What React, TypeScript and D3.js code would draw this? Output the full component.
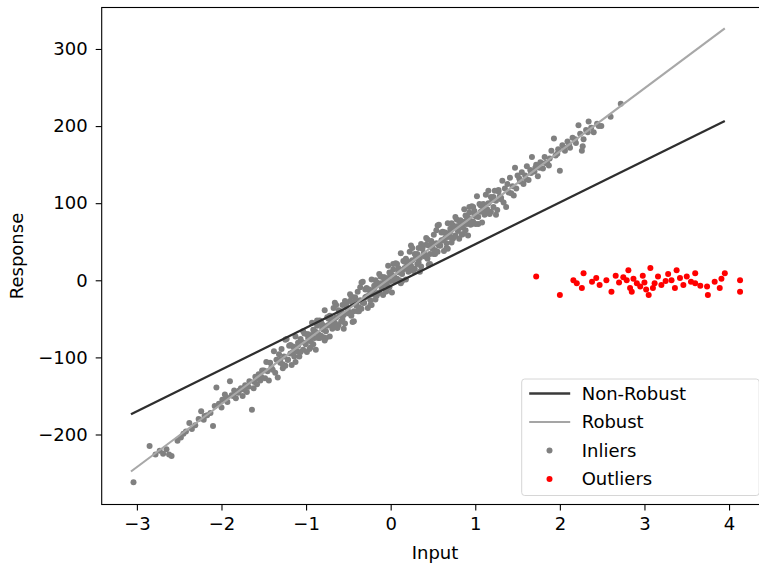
import * as d3 from "d3";
import { useRef, useEffect } from "react";

// values
const xTicks = [-3, -2, -1, 0, 1, 2, 3, 4];
const yTicks = [-200, -100, 0, 100, 200, 300];

const fitX = [-3.07, 3.95];
const nonRobustY = [-173.8, 206.6];
const robustY = [-248, 326.8];

const inliers: [number, number][] = [
  // lower tail
  [-3.04, -262], [-2.85, -215], [-2.78, -226], [-2.73, -221], [-2.69, -225], [-2.65, -219],
  [-2.62, -226], [-2.59, -228], [-2.52, -208], [-2.48, -204], [-2.45, -199], [-2.42, -196],
  [-2.38, -185], [-2.35, -193], [-2.31, -188], [-2.27, -180], [-2.24, -170], [-2.21, -181],
  [-2.2, -176], [-2.17, -175], [-2.13, -172], [-2.1, -189], [-2.08, -163], [-2.06, -139],
  [-2.03, -160], [-2.0, -165], [-1.99, -155], [-1.96, -148], [-1.94, -152], [-1.93, -158],
  [-1.9, -131], [-1.88, -149], [-1.86, -150], [-1.85, -143], [-1.83, -153], [-1.8, -146],
  [-1.79, -143], [-1.77, -140], [-1.75, -150], [-1.73, -142], [-1.72, -136], [-1.7, -145],
  [-1.68, -138], [-1.67, -131], [-1.64, -168], [-1.62, -140], [-1.61, -132], [-1.6, -125],
  [-1.58, -135], [-1.57, -127], [-1.56, -122], [-1.54, -130], [-1.53, -125], [-1.52, -117],
  // main band
  [-1.5, -117], [-1.485, -127], [-1.47, -106], [-1.455, -118], [-1.44, -130], [-1.425, -107],
  [-1.41, -113], [-1.395, -116], [-1.38, -92], [-1.365, -120], [-1.35, -103], [-1.335, -126],
  [-1.32, -96], [-1.305, -107], [-1.29, -89], [-1.275, -109], [-1.26, -99], [-1.245, -111],
  [-1.23, -76], [-1.215, -103], [-1.2, -85], [-1.185, -95], [-1.17, -110], [-1.155, -86],
  [-1.14, -99], [-1.125, -73], [-1.11, -92], [-1.095, -85], [-1.08, -99], [-1.065, -76],
  [-1.05, -80], [-1.035, -90], [-1.02, -69], [-1.005, -81], [-0.99, -93], [-0.975, -70],
  [-0.96, -76], [-0.945, -79], [-0.93, -55], [-0.915, -83], [-0.9, -66], [-0.885, -90],
  [-0.87, -59], [-0.855, -70], [-0.84, -52], [-0.825, -72], [-0.81, -62], [-0.795, -74],
  [-0.78, -39], [-0.765, -66], [-0.75, -48], [-0.735, -58], [-0.72, -73], [-0.705, -49],
  [-0.69, -63], [-0.675, -36], [-0.66, -55], [-0.645, -48], [-0.63, -62], [-0.615, -39],
  [-0.6, -43], [-0.585, -53], [-0.57, -32], [-0.555, -45], [-0.54, -56], [-0.525, -33],
  [-0.51, -39], [-0.495, -43], [-0.48, -18], [-0.465, -46], [-0.45, -29], [-0.435, -53],
  [-0.42, -22], [-0.405, -33], [-0.39, -15], [-0.375, -35], [-0.36, -26], [-0.345, -37],
  [-0.33, -2], [-0.315, -29], [-0.3, -12], [-0.285, -21], [-0.27, -36], [-0.255, -12],
  [-0.24, -26], [-0.225, 1], [-0.21, -18], [-0.195, -11], [-0.18, -25], [-0.165, -3],
  [-0.15, -6], [-0.135, -16], [-0.12, 5], [-0.105, -8], [-0.09, -19], [-0.075, 4],
  [-0.06, -2], [-0.045, -6], [-0.03, 19], [-0.015, -9], [0, 8], [0.015, -16],
  [0.03, 14], [0.045, 4], [0.06, 22], [0.075, 2], [0.09, 11], [0.105, 0],
  [0.12, 35], [0.135, 8], [0.15, 25], [0.165, 16], [0.18, 1], [0.195, 25],
  [0.21, 11], [0.225, 37], [0.24, 19], [0.255, 26], [0.27, 12], [0.285, 34],
  [0.3, 31], [0.315, 21], [0.33, 42], [0.345, 29], [0.36, 18], [0.375, 41],
  [0.39, 35], [0.405, 31], [0.42, 55], [0.435, 28], [0.45, 45], [0.465, 21],
  [0.48, 51], [0.495, 41], [0.51, 59], [0.525, 39], [0.54, 48], [0.555, 37],
  [0.57, 72], [0.585, 45], [0.6, 62], [0.615, 52], [0.63, 38], [0.645, 62],
  [0.66, 48], [0.675, 74], [0.69, 56], [0.705, 63], [0.72, 49], [0.735, 71],
  [0.75, 68], [0.765, 58], [0.78, 79], [0.795, 66], [0.81, 54], [0.825, 78],
  [0.84, 72], [0.855, 68], [0.87, 92], [0.885, 65], [0.9, 82], [0.915, 58],
  [0.93, 88], [0.945, 77], [0.96, 96], [0.975, 76], [0.99, 85], [1.005, 73],
  [1.02, 109], [1.035, 82], [1.05, 99], [1.065, 89], [1.08, 75], [1.095, 99],
  [1.11, 85], [1.125, 111], [1.14, 92], [1.155, 100], [1.17, 86], [1.185, 108],
  [1.2, 104], [1.215, 95], [1.23, 116], [1.245, 103], [1.26, 91], [1.275, 115],
  [1.29, 109], [1.305, 105], [1.32, 129], [1.335, 101], [1.35, 119], [1.365, 95],
  [1.38, 125], [1.395, 114], [1.41, 133], [1.425, 113], [1.44, 122], [1.455, 110],
  [1.47, 146], [1.485, 119], [1.5, 136],
  // core, second pass
  [-0.99, -70], [-0.96, -89], [-0.93, -71], [-0.9, -75], [-0.87, -52], [-0.84, -75],
  [-0.81, -57], [-0.78, -78], [-0.75, -59], [-0.72, -46], [-0.69, -60], [-0.66, -29],
  [-0.63, -61], [-0.6, -45], [-0.57, -51], [-0.54, -27], [-0.51, -42], [-0.48, -27],
  [-0.45, -54], [-0.42, -26], [-0.39, -40], [-0.36, -9], [-0.33, -29], [-0.3, -22],
  [-0.27, -12], [-0.24, -32], [-0.21, -16], [-0.18, 0], [-0.15, -17], [-0.12, -4],
  [-0.09, 4], [-0.06, -15], [-0.03, 3], [0, -1], [0.03, 21], [0.06, -1],
  [0.09, 16], [0.12, -4], [0.15, 14], [0.18, 28], [0.21, 14], [0.24, 45],
  [0.27, 13], [0.3, 29], [0.33, 23], [0.36, 47], [0.39, 32], [0.42, 46],
  [0.45, 20], [0.48, 47], [0.51, 34], [0.54, 65], [0.57, 45], [0.6, 52],
  [0.63, 62], [0.66, 42], [0.69, 58], [0.72, 74], [0.75, 56], [0.78, 70],
  [0.81, 77], [0.84, 59], [0.87, 76], [0.9, 73], [0.93, 95], [0.96, 73],
  [0.99, 90],
  // core, third pass
  [-1.305, -103], [-1.275, -114], [-1.245, -77], [-1.215, -103], [-1.185, -84], [-1.155, -93],
  [-1.125, -106], [-1.095, -81], [-1.065, -93], [-1.035, -66], [-1.005, -83], [-0.975, -75],
  [-0.945, -87], [-0.915, -64], [-0.885, -67], [-0.855, -75], [-0.825, -53], [-0.795, -64],
  [-0.765, -75], [-0.735, -50], [-0.705, -55], [-0.675, -57], [-0.645, -32], [-0.615, -58],
  [-0.585, -40], [-0.555, -63], [-0.525, -31], [-0.495, -41], [-0.465, -21], [-0.435, -40],
  [-0.405, -29], [-0.375, -40], [-0.345, -3], [-0.315, -29], [-0.285, -10], [-0.255, -19],
  [-0.225, -32], [-0.195, -7], [-0.165, -20], [-0.135, 8], [-0.105, -10], [-0.075, -1],
  [-0.045, -14], [-0.015, 10], [0.015, 7], [0.045, -1], [0.075, 21], [0.105, 10],
  [0.135, -1], [0.165, 24], [0.195, 19], [0.225, 16], [0.255, 42], [0.285, 15],
  [0.315, 34], [0.345, 11], [0.375, 43], [0.405, 33], [0.435, 53], [0.465, 34],
  [0.495, 45], [0.525, 34], [0.555, 71], [0.585, 45], [0.615, 63], [0.645, 55],
  [0.675, 41], [0.705, 67], [0.735, 54], [0.765, 82], [0.795, 64], [0.825, 73],
  [0.855, 60], [0.885, 84], [0.915, 81], [0.945, 72], [0.975, 95], [1.005, 83],
  [1.035, 73], [1.065, 97], [1.095, 93], [1.125, 90], [1.155, 116], [1.185, 89],
  [1.215, 108], [1.245, 85], [1.275, 117], [1.305, 107],
  // upper tail
  [1.52, 132], [1.53, 128], [1.55, 140], [1.57, 125], [1.59, 136], [1.6, 131],
  [1.61, 148], [1.63, 130], [1.65, 143], [1.66, 139], [1.67, 160], [1.7, 141],
  [1.71, 146], [1.72, 150], [1.74, 135], [1.76, 146], [1.77, 153], [1.8, 145],
  [1.82, 160], [1.83, 152], [1.85, 152], [1.87, 149], [1.88, 158], [1.9, 168],
  [1.93, 184], [1.95, 162], [1.97, 164], [1.98, 170], [2.0, 142], [2.03, 175],
  [2.05, 172], [2.06, 168], [2.09, 180], [2.11, 176], [2.12, 172], [2.15, 185],
  [2.18, 183], [2.19, 178], [2.22, 201], [2.24, 190], [2.26, 168], [2.27, 174],
  [2.28, 183], [2.31, 195], [2.33, 192], [2.34, 206], [2.37, 198], [2.4, 192],
  [2.44, 203], [2.46, 200], [2.49, 200], [2.6, 212], [2.72, 229],
];

const outliers: [number, number][] = [
  [1.72, 5], [2.0, -19], [2.16, 0], [2.2, -4], [2.26, -10], [2.28, 9], [2.38, -2],
  [2.43, 3], [2.47, -6], [2.55, 0], [2.61, -15], [2.66, 6], [2.7, -3], [2.75, 4],
  [2.79, 0], [2.81, 13], [2.83, -10], [2.85, -15], [2.87, 2], [2.91, -4], [2.95, -8],
  [2.98, 6], [3.0, -3], [3.02, -12], [3.05, -19], [3.07, 16], [3.1, -10], [3.12, -4],
  [3.16, 5], [3.2, -6], [3.25, -1], [3.28, 8], [3.32, 0], [3.36, -10], [3.38, 13],
  [3.42, 3], [3.46, -6], [3.5, 5], [3.55, -2], [3.6, -4], [3.6, 9], [3.66, -7],
  [3.74, -8], [3.75, -19], [3.83, -2], [3.89, -10], [3.91, 2], [3.95, 9], [4.13, 0],
  [4.13, -15],
];

const legendItems = [
  { label: "Non-Robust", kind: "line", color: "#3a3a3a", width: 2.6 },
  { label: "Robust", kind: "line", color: "#a5a5a5", width: 2.2 },
  { label: "Inliers", kind: "dot", color: "#808080", width: 0 },
  { label: "Outliers", kind: "dot", color: "#ff0000", width: 0 },
];

const App = () => {
  const container = useRef(null);

  useEffect(() => {
    document.body.style.margin = "0";
    createChart();
  });

  const createChart = () => {
    const node = container.current;
    const font = "DejaVu Sans, sans-serif";

    const dims = { width: 759, height: 566 };
    const plot = { l: 101.7, r: 768.3, t: 7.5, b: 504.5 };
    const dotR = 3;

    const svg = d3
      .select(node)
      .selectAll("svg")
      .data([0])
      .join("svg")
      .attr("width", dims.width)
      .attr("height", dims.height)
      .style("display", "block")
      .style("background", "#fff");

    const xScale = d3.scaleLinear().domain([-3.416, 4.464]).range([plot.l, plot.r]);
    const yScale = d3.scaleLinear().domain([-290.8, 353.8]).range([plot.b, plot.t]);

    // --- AXES
    const xaxisg = svg
      .selectAll(".x-axis-g")
      .data([0])
      .join("g")
      .attr("class", "x-axis-g")
      .attr("transform", `translate(0,${plot.b})`);
    const yaxisg = svg
      .selectAll(".y-axis-g")
      .data([0])
      .join("g")
      .attr("class", "y-axis-g")
      .attr("transform", `translate(${plot.l},0)`);

    xaxisg.call(
      d3.axisBottom(xScale).tickValues(xTicks).tickSize(6).tickPadding(7).tickSizeOuter(0)
    );
    yaxisg.call(
      d3.axisLeft(yScale).tickValues(yTicks).tickSize(6).tickPadding(8).tickSizeOuter(0)
    );
    svg.selectAll(".x-axis-g .domain, .y-axis-g .domain").remove();
    svg
      .selectAll(".x-axis-g text, .y-axis-g text")
      .attr("font-family", font)
      .attr("font-size", 18)
      .attr("fill", "#000");
    svg.selectAll(".x-axis-g line, .y-axis-g line").attr("stroke", "#000").attr("stroke-width", 1.1);

    // --- POINTS
    const pointsg = svg.selectAll(".points-g").data([0]).join("g").attr("class", "points-g");
    pointsg
      .selectAll(".inlier")
      .data(inliers)
      .join("circle")
      .attr("class", "inlier")
      .attr("cx", (d) => xScale(d[0]))
      .attr("cy", (d) => yScale(d[1]))
      .attr("r", dotR)
      .attr("fill", "#808080");
    pointsg
      .selectAll(".outlier")
      .data(outliers)
      .join("circle")
      .attr("class", "outlier")
      .attr("cx", (d) => xScale(d[0]))
      .attr("cy", (d) => yScale(d[1]))
      .attr("r", dotR)
      .attr("fill", "#ff0000");

    // --- FIT LINES
    const lineGen = d3
      .line<number>()
      .x((d, i) => xScale(fitX[i]))
      .y((d) => yScale(d));
    const linesg = svg.selectAll(".lines-g").data([0]).join("g").attr("class", "lines-g");
    linesg
      .selectAll(".fit-line")
      .data([
        { ys: nonRobustY, color: "#2e2e2e", w: 2.3 },
        { ys: robustY, color: "#a8a8a8", w: 2.1 },
      ])
      .join("path")
      .attr("class", "fit-line")
      .attr("d", (d) => lineGen(d.ys))
      .attr("fill", "none")
      .attr("stroke", (d) => d.color)
      .attr("stroke-width", (d) => d.w);

    // --- FRAME
    svg
      .selectAll(".frame")
      .data([0])
      .join("rect")
      .attr("class", "frame")
      .attr("x", plot.l)
      .attr("y", plot.t)
      .attr("width", plot.r - plot.l)
      .attr("height", plot.b - plot.t)
      .attr("fill", "none")
      .attr("stroke", "#000")
      .attr("stroke-width", 1.1);

    // --- LEGEND
    const legendg = svg
      .selectAll(".legend-g")
      .data([0])
      .join("g")
      .attr("class", "legend-g")
      .attr("transform", "translate(521.7,379)");
    legendg
      .selectAll(".legend-box")
      .data([0])
      .join("rect")
      .attr("class", "legend-box")
      .attr("width", 237.5)
      .attr("height", 116.5)
      .attr("rx", 3)
      .attr("fill", "rgba(255,255,255,0.8)")
      .attr("stroke", "#d6d6d6")
      .attr("stroke-width", 1);

    const rows = legendg
      .selectAll(".legend-row")
      .data(legendItems)
      .join("g")
      .attr("class", "legend-row")
      .attr("transform", (d, i) => `translate(0,${14.5 + 28.5 * i})`);
    rows
      .filter((d) => d.kind === "line")
      .append("line")
      .attr("x1", 7.5)
      .attr("x2", 48.5)
      .attr("stroke", (d) => d.color)
      .attr("stroke-width", (d) => d.width);
    rows
      .filter((d) => d.kind === "dot")
      .append("circle")
      .attr("cx", 27.8)
      .attr("r", dotR)
      .attr("fill", (d) => d.color);
    rows
      .append("text")
      .attr("x", 60)
      .attr("y", 6)
      .attr("font-family", font)
      .attr("font-size", 18)
      .attr("fill", "#000")
      .text((d) => d.label);

    // --- AXIS TITLES
    const titleg = svg.selectAll(".title-g").data([0]).join("g").attr("class", "title-g");
    titleg
      .selectAll(".x-title")
      .data([0])
      .join("text")
      .attr("class", "x-title")
      .attr("x", (plot.l + plot.r) / 2)
      .attr("y", 559)
      .attr("text-anchor", "middle")
      .attr("font-family", font)
      .attr("font-size", 18)
      .text("Input");
    titleg
      .selectAll(".y-title")
      .data([0])
      .join("text")
      .attr("class", "y-title")
      .attr("transform", `translate(23,${(plot.t + plot.b) / 2})rotate(-90)`)
      .attr("text-anchor", "middle")
      .attr("font-family", font)
      .attr("font-size", 18)
      .text("Response");
  };

  return <div ref={container} style={{ width: 759, height: 566, overflow: "hidden" }}></div>;
};

export default App;
